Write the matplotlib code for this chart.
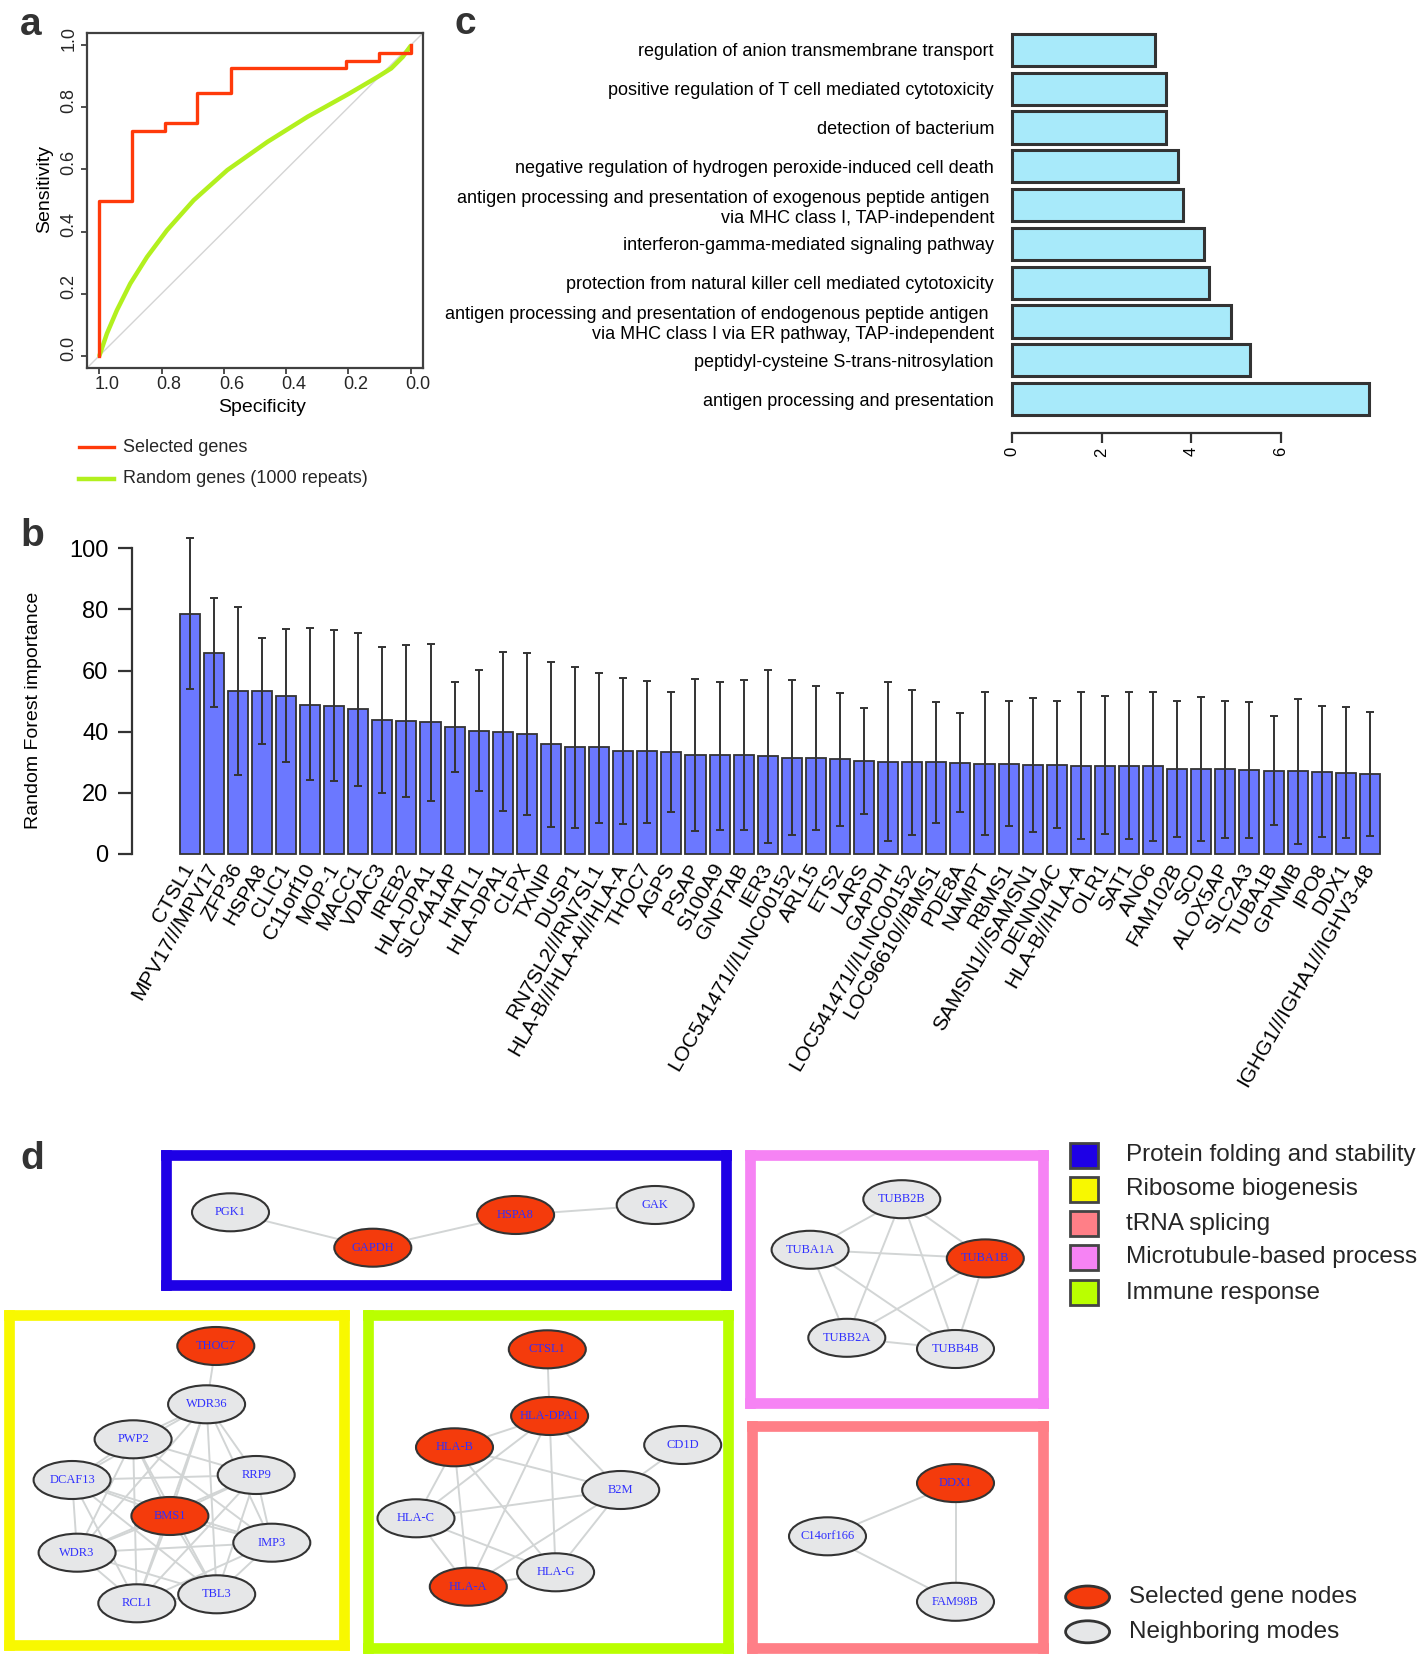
import numpy as np
import matplotlib
matplotlib.use('Agg')
import matplotlib.pyplot as plt
import matplotlib.transforms as mtransforms
from matplotlib.patches import Ellipse, Rectangle

plt.rcParams['font.family'] = ['Liberation Sans', 'DejaVu Sans']
plt.rcParams['text.color'] = '#262626'

W, H = 1419, 1657
DARK = '#333333'

# ---------------- data: panel a (ROC) ----------------
sel_spec = [1.0, 1.0, 0.894, 0.894, 0.790, 0.790, 0.686, 0.686, 0.578, 0.578,
            0.208, 0.208, 0.103, 0.103, 0.0, 0.0]
sel_sens = [0.0, 0.499, 0.499, 0.724, 0.724, 0.751, 0.751, 0.848, 0.848, 0.926,
            0.926, 0.951, 0.951, 0.976, 0.976, 1.0]
rnd_spec = [1.0, 0.976, 0.944, 0.901, 0.847, 0.783, 0.697, 0.589, 0.460, 0.331,
            0.202, 0.105, 0.062, 0.025, 0.0]
rnd_sens = [0.0, 0.071, 0.146, 0.232, 0.318, 0.404, 0.501, 0.598, 0.689, 0.770,
            0.842, 0.899, 0.926, 0.963, 0.998]
roc_ticks = [1.0, 0.8, 0.6, 0.4, 0.2, 0.0]

# ---------------- data: panel b (importance) ----------------
genes = ['CTSL1', 'MPV17///MPV17', 'ZFP36', 'HSPA8', 'CLIC1', 'C11orf10', 'MOP-1',
         'MACC1', 'VDAC3', 'IREB2', 'HLA-DPA1', 'SLC4A1AP', 'HIATL1', 'HLA-DPA1',
         'CLPX', 'TXNIP', 'DUSP1', 'RN7SL2///RN7SL1', 'HLA-B///HLA-A///HLA-A',
         'THOC7', 'AGPS', 'PSAP', 'S100A9', 'GNPTAB', 'IER3', 'LOC541471///LINC00152',
         'ARL15', 'ETS2', 'LARS', 'GAPDH', 'LOC541471///LINC00152', 'LOC96610///BMS1',
         'PDE8A', 'NAMPT', 'RBMS1', 'SAMSN1///SAMSN1', 'DENND4C', 'HLA-B///HLA-A',
         'OLR1', 'SAT1', 'ANO6', 'FAM102B', 'SCD', 'ALOX5AP', 'SLC2A3', 'TUBA1B',
         'GPNMB', 'IPO8', 'DDX1', 'IGHG1///IGHA1///IGHV3-48']
imp_mean = [78.6, 65.8, 53.4, 53.3, 51.6, 48.8, 48.5, 47.4, 43.8, 43.5,
            43.0, 41.5, 40.2, 40.0, 39.3, 35.8, 34.8, 34.8, 33.5, 33.5,
            33.3, 32.3, 32.3, 32.2, 31.9, 31.5, 31.3, 30.9, 30.3, 30.1,
            30.0, 29.9, 29.8, 29.5, 29.4, 29.2, 29.2, 28.8, 28.8, 28.7,
            28.6, 27.8, 27.7, 27.6, 27.3, 27.1, 27.0, 26.9, 26.4, 26.2]
imp_low = [54.0, 48.0, 25.9, 35.8, 29.9, 24.0, 23.7, 22.1, 20.0, 18.7,
           17.2, 26.6, 20.5, 14.1, 12.6, 8.7, 8.5, 9.9, 9.7, 10.1,
           13.6, 7.4, 7.9, 7.6, 3.6, 6.2, 7.6, 9.1, 13.1, 4.2,
           6.2, 10.1, 13.5, 6.0, 9.2, 7.2, 8.3, 4.9, 6.4, 4.7,
           4.1, 5.6, 4.1, 5.3, 5.3, 9.3, 3.3, 5.6, 5.0, 5.9]
imp_high = [103.5, 83.8, 80.9, 70.7, 73.5, 73.8, 73.4, 72.4, 67.7, 68.5,
            68.7, 56.2, 60.2, 66.0, 65.9, 62.7, 61.0, 59.2, 57.6, 56.6,
            52.9, 57.3, 56.4, 57.0, 60.1, 56.9, 54.9, 52.8, 47.6, 56.2,
            53.7, 49.8, 46.2, 53.1, 50.0, 51.0, 50.0, 52.9, 51.5, 52.9,
            53.1, 49.9, 51.4, 49.9, 49.7, 45.1, 50.7, 48.4, 48.0, 46.4]

# ---------------- data: panel c (GO terms, top to bottom) ----------------
go_terms = ['regulation of anion transmembrane transport',
            'positive regulation of T cell mediated cytotoxicity',
            'detection of bacterium',
            'negative regulation of hydrogen peroxide-induced cell death',
            'antigen processing and presentation of exogenous peptide antigen \nvia MHC class I, TAP-independent',
            'interferon-gamma-mediated signaling pathway',
            'protection from natural killer cell mediated cytotoxicity',
            'antigen processing and presentation of endogenous peptide antigen \nvia MHC class I via ER pathway, TAP-independent',
            'peptidyl-cysteine S-trans-nitrosylation',
            'antigen processing and presentation']
go_vals = [3.19, 3.45, 3.45, 3.71, 3.83, 4.30, 4.40, 4.89, 5.32, 7.97]

# ---------------- data: panel d (networks) ----------------
selected = {'GAPDH', 'HSPA8', 'TUBA1B', 'DDX1', 'THOC7', 'BMS1',
            'CTSL1', 'HLA-DPA1', 'HLA-B', 'HLA-A'}
modules = [
    dict(name='Protein folding and stability', color='#1E00E6',
         box=(166, 1155.3, 726.5, 1284.7),
         nodes={'PGK1': (64.5, 57), 'GAPDH': (206.8, 92.4),
                'HSPA8': (349.6, 59.7), 'GAK': (489.2, 49.7)},
         edges=[('PGK1', 'GAPDH'), ('GAPDH', 'HSPA8'), ('HSPA8', 'GAK')]),
    dict(name='Ribosome biogenesis', color='#F8F800',
         box=(8.7, 1314.7, 344, 1644.7),
         nodes={'THOC7': (207.1, 31.3), 'WDR36': (197.9, 89.6), 'PWP2': (124.4, 124.6),
                'DCAF13': (63.4, 165.3), 'RRP9': (247.5, 160.3), 'BMS1': (161.2, 201.3),
                'WDR3': (68.4, 238), 'IMP3': (263.1, 228), 'TBL3': (208, 279.6),
                'RCL1': (128.1, 288.6)},
         edges='ribo'),
    dict(name='tRNA splicing', color='#FF7F87',
         box=(752, 1425.7, 1043, 1648),
         nodes={'DDX1': (203.5, 57.4), 'C14orf166': (75.5, 110.6), 'FAM98B': (203.5, 176.1)},
         edges=[('DDX1', 'C14orf166'), ('DDX1', 'FAM98B'), ('C14orf166', 'FAM98B')]),
    dict(name='Microtubule-based process', color='#F683F4',
         box=(750, 1154.6, 1043, 1403.4),
         nodes={'TUBB2B': (151.8, 44.6), 'TUBA1A': (60.1, 95.2), 'TUBA1B': (235.3, 103.8),
                'TUBB2A': (96.8, 183.2), 'TUBB4B': (205.5, 194.4)},
         edges='all'),
    dict(name='Immune response', color='#BAFF00',
         box=(367.8, 1315, 728, 1648),
         nodes={'CTSL1': (179.5, 34.3), 'HLA-DPA1': (181.8, 101), 'HLA-B': (86.7, 132.3),
                'CD1D': (314.9, 130), 'B2M': (252.9, 175), 'HLA-C': (48.2, 203.3),
                'HLA-G': (187.8, 257.3), 'HLA-A': (100.5, 271.7)},
         edges=[('CTSL1', 'HLA-DPA1'), ('HLA-DPA1', 'HLA-B'), ('HLA-DPA1', 'B2M'),
                ('HLA-DPA1', 'HLA-C'), ('HLA-DPA1', 'HLA-A'), ('HLA-DPA1', 'HLA-G'),
                ('CD1D', 'B2M'), ('HLA-B', 'B2M'), ('HLA-B', 'HLA-C'), ('HLA-B', 'HLA-A'),
                ('HLA-B', 'HLA-G'), ('B2M', 'HLA-C'), ('B2M', 'HLA-A'), ('B2M', 'HLA-G'),
                ('HLA-C', 'HLA-A'), ('HLA-C', 'HLA-G'), ('HLA-A', 'HLA-G')]),
]

fig = plt.figure(figsize=(W / 100, H / 100), dpi=100)


def px_axes(x0, y0, x1, y1):
    return fig.add_axes([x0 / W, 1 - y1 / H, (x1 - x0) / W, (y1 - y0) / H])


# overlay in pixel units for letters and legends
ov = px_axes(0, 0, W, H)
ov.set_xlim(0, W)
ov.set_ylim(H, 0)
ov.axis('off')
for letter, x, y in [('a', 20, 35), ('c', 455, 34), ('b', 20, 546), ('d', 20, 1169)]:
    ov.text(x, y, letter, fontsize=28, fontweight='bold', ha='left', va='baseline',
            color='#333333')

# ---------------- panel a ----------------
axa = px_axes(87, 33, 423, 368)
axa.plot([1.04, -0.04], [-0.04, 1.04], color='#d4d4d4', lw=1)
axa.plot(rnd_spec, rnd_sens, color='#B2F01E', lw=3.2, solid_capstyle='round')
axa.plot(sel_spec, sel_sens, color='#FF3A0A', lw=2.4)
axa.set_xlim(1.04, -0.04)
axa.set_ylim(-0.04, 1.04)
axa.set_xticks(roc_ticks)
axa.set_xticklabels([f'{t:.1f}' for t in roc_ticks])
axa.set_yticks(roc_ticks)
axa.set_yticklabels([f'{t:.1f}' for t in roc_ticks], rotation=90, va='center')
axa.tick_params(direction='out', length=4.5, width=1.3, color='#404040',
                labelsize=13, labelcolor='#262626')
axa.tick_params(axis='x', pad=1.5)
axa.tick_params(axis='y', pad=2.5)
# labels sit a little off their ticks in the original
shift_x = mtransforms.ScaledTranslation(0.075, 0, fig.dpi_scale_trans)
shift_y = mtransforms.ScaledTranslation(0, 0.07, fig.dpi_scale_trans)
for lab in axa.get_xticklabels():
    lab.set_transform(lab.get_transform() + shift_x)
for lab in axa.get_yticklabels():
    lab.set_transform(lab.get_transform() + shift_y)
for s in axa.spines.values():
    s.set_color('#404040')
    s.set_linewidth(1.6)
axa.set_xlabel('Specificity', fontsize=14)
axa.xaxis.set_label_coords(0.52, -0.092)
axa.set_ylabel('Sensitivity', fontsize=14)
axa.yaxis.set_label_coords(-0.102, 0.533)

ov.plot([79, 114], [447, 447], color='#FF3A0A', lw=2.4)
ov.plot([79, 114], [478.6, 478.6], color='#B2F01E', lw=3.2)
ov.text(122.6, 447, 'Selected genes', fontsize=13, va='center')
ov.text(122.6, 478.6, 'Random genes (1000 repeats)', fontsize=13, va='center')

# ---------------- panel c ----------------
axc = px_axes(1012, 33.8, 1392.5, 415.2)
n = len(go_vals)
ypos = [0.7 + 1.2 * (n - 1 - i) for i in range(n)]
axc.barh(ypos, go_vals, height=1.0, color='#A8EAFA', edgecolor=DARK, lw=2.2,
         clip_on=False)
axc.set_xlim(0, 8.5)
axc.set_ylim(0.2, 12.0)
for side in ['left', 'top', 'right']:
    axc.spines[side].set_visible(False)
axc.spines['bottom'].set_position(('outward', 13))
axc.spines['bottom'].set_bounds(0, 6)
axc.spines['bottom'].set_linewidth(1.6)
axc.spines['bottom'].set_color(DARK)
axc.set_xticks([0, 2, 4, 6])
axc.set_xticklabels(['0', '2', '4', '6'], rotation=90)
axc.tick_params(axis='x', length=7, width=1.6, color=DARK, labelsize=12, pad=3)
axc.set_yticks(ypos)
axc.set_yticklabels(go_terms)
axc.tick_params(axis='y', length=0, labelsize=13, pad=13)

# ---------------- panel b ----------------
axb = px_axes(132, 517.9, 1400, 853.7)
centers = 0.7 + 1.2 * np.arange(len(genes))
mean = np.array(imp_mean)
axb.bar(centers, mean, width=1.0, color='#6B78FF', edgecolor=DARK, lw=1.3,
        clip_on=False)
axb.errorbar(centers, mean, yerr=[mean - np.array(imp_low), np.array(imp_high) - mean],
             fmt='none', ecolor=DARK, elinewidth=1.4, capsize=3, capthick=1.4)
axb.set_xlim(-2.172, 61.0)
axb.set_ylim(0, 110)
for side in ['bottom', 'top', 'right']:
    axb.spines[side].set_visible(False)
axb.spines['left'].set_bounds(0, 100)
axb.spines['left'].set_linewidth(1.6)
axb.spines['left'].set_color(DARK)
axb.set_yticks([0, 20, 40, 60, 80, 100])
axb.tick_params(axis='y', length=10, width=1.6, color=DARK, labelsize=17, pad=7)
axb.set_xticks(centers)
axb.set_xticklabels(genes, rotation=60, ha='right', va='center', rotation_mode='anchor')
axb.tick_params(axis='x', length=0, labelsize=15, pad=8)
axb.set_ylabel('Random Forest importance', fontsize=14)
axb.yaxis.set_label_coords(-0.071, 0.428)

# ---------------- panel d ----------------
for m in modules:
    x0, y0, x1, y1 = m['box']
    ax = px_axes(x0, y0, x1, y1)
    ax.set_xlim(0, x1 - x0)
    ax.set_ylim(y1 - y0, 0)
    ax.set_xticks([])
    ax.set_yticks([])
    for s in ax.spines.values():
        s.set_color(m['color'])
        s.set_linewidth(7.7)
    names = list(m['nodes'])
    if m['edges'] == 'all':
        edges = [(a, b) for i, a in enumerate(names) for b in names[i + 1:]]
    elif m['edges'] == 'ribo':
        rest = names[1:]
        edges = [('THOC7', 'WDR36')] + [(a, b) for i, a in enumerate(rest) for b in rest[i + 1:]]
    else:
        edges = m['edges']
    for a, b in edges:
        (xa, ya), (xb, yb) = m['nodes'][a], m['nodes'][b]
        ax.plot([xa, xb], [ya, yb], color='#D2D5D5', lw=1.4, zorder=1)
    for name, (x, y) in m['nodes'].items():
        fc = '#F43B0C' if name in selected else '#E6E7E8'
        ax.add_patch(Ellipse((x, y), 77, 38, facecolor=fc, edgecolor=DARK, lw=1.5, zorder=2))
        ax.text(x, y, name, ha='center', va='center', fontsize=9, color='#3030FF',
                family=['Liberation Serif', 'DejaVu Serif'], zorder=3)

row_y = [1155, 1189.1, 1223.6, 1257.3, 1292.5]
for m, yy in zip(modules, row_y):
    ov.add_patch(Rectangle((1069.5, yy - 12.5), 28, 25, facecolor=m['color'],
                           edgecolor='#444444', lw=2))
    ov.text(1125.7, yy, m['name'], fontsize=17.5, va='center')

ov.add_patch(Ellipse((1087.6, 1597), 44, 22, facecolor='#F43B0C', edgecolor=DARK, lw=2))
ov.add_patch(Ellipse((1087.6, 1631.8), 44, 22, facecolor='#E6E7E8', edgecolor=DARK, lw=2))
ov.text(1128.9, 1597, 'Selected gene nodes', fontsize=17.5, va='center')
ov.text(1128.9, 1631.8, 'Neighboring modes', fontsize=17.5, va='center')

fig.savefig('out.png', dpi=100)
